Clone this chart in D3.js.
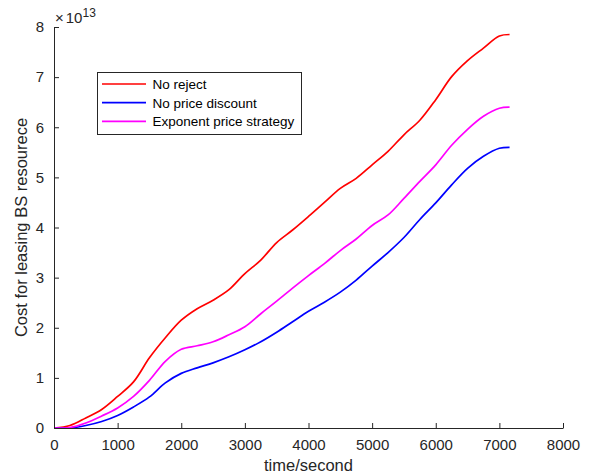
<!DOCTYPE html>
<html>
<head>
<meta charset="utf-8">
<script src="https://cdn.jsdelivr.net/npm/d3@7"></script>
<style>
  html, body { margin: 0; padding: 0; background: #fff; }
  svg { display: block; font-family: "Liberation Sans", Arial, Helvetica, sans-serif; }
</style>
</head>
<body>
<svg id="chart" width="590" height="476"></svg>
<script>
// Time stamps (seconds) and cumulative leasing cost (in units of 1e13)
const times = [0, 250, 500, 750, 1000, 1250, 1500, 1750, 2000, 2250, 2500, 2750, 3000, 3250, 3500,
  3750, 4000, 4250, 4500, 4750, 5000, 5250, 5500, 5750, 6000, 6250, 6500, 6750, 7000, 7160];

const noReject = [0, 0.05, 0.20, 0.37, 0.63, 0.92, 1.40, 1.80, 2.15, 2.38, 2.55, 2.76, 3.08, 3.35, 3.70,
  3.95, 4.22, 4.50, 4.78, 4.98, 5.25, 5.52, 5.85, 6.14, 6.55, 7.01, 7.33, 7.58, 7.82, 7.85];

const noDiscount = [0, 0, 0.05, 0.13, 0.25, 0.42, 0.62, 0.90, 1.09, 1.20, 1.30, 1.42, 1.56, 1.72, 1.91,
  2.12, 2.33, 2.51, 2.71, 2.95, 3.23, 3.50, 3.80, 4.16, 4.49, 4.85, 5.18, 5.42, 5.58, 5.60];

const exponentStrategy = [0, 0.01, 0.10, 0.24, 0.40, 0.63, 0.95, 1.33, 1.57, 1.64, 1.72, 1.86, 2.02, 2.28, 2.53,
  2.79, 3.04, 3.28, 3.54, 3.77, 4.04, 4.25, 4.58, 4.92, 5.25, 5.64, 5.96, 6.22, 6.38, 6.40];

const seriesNames = ["No reject", "No price discount", "Exponent price strategy"];
const seriesColors = ["#ff0000", "#0000ff", "#ff00ff"];
const seriesValues = [noReject, noDiscount, exponentStrategy];

const xTicks = [0, 1000, 2000, 3000, 4000, 5000, 6000, 7000, 8000];
const yTicks = [0, 1, 2, 3, 4, 5, 6, 7, 8];

const axisColor = "#262626";
const svg = d3.select("#chart");

const plot = { left: 54, right: 563, top: 27, bottom: 428 };

const x = d3.scaleLinear().domain([0, 8000]).range([plot.left, plot.right]);
const y = d3.scaleLinear().domain([0, 8]).range([plot.bottom, plot.top]);

// Series lines
const line = d3.line()
  .x(d => x(d[0]))
  .y(d => y(d[1]))
  .curve(d3.curveCatmullRom.alpha(0.5));

seriesValues.forEach((vals, i) => {
  svg.append("path")
    .datum(times.map((t, k) => [t, vals[k]]))
    .attr("fill", "none")
    .attr("stroke", seriesColors[i])
    .attr("stroke-width", 1.7)
    .attr("stroke-linejoin", "round")
    .attr("d", line);
});

// Axes with inward ticks
const xAxis = d3.axisBottom(x).tickValues(xTicks).tickSizeInner(-5).tickSizeOuter(0).tickPadding(11)
  .tickFormat(d3.format("d"));
const yAxis = d3.axisLeft(y).tickValues(yTicks).tickSizeInner(-5).tickSizeOuter(0).tickPadding(10)
  .tickFormat(d3.format("d"));

const gx = svg.append("g").attr("transform", `translate(0,${plot.bottom})`).call(xAxis);
const gy = svg.append("g").attr("transform", `translate(${plot.left},0)`).call(yAxis);

[gx, gy].forEach(g => {
  g.select(".domain").attr("stroke", axisColor).attr("stroke-width", 1);
  g.selectAll(".tick line").attr("stroke", axisColor).attr("stroke-width", 1);
  g.selectAll(".tick text")
    .attr("fill", axisColor)
    .style("font-size", "15px")
    .style("font-family", "'Liberation Sans', Arial, sans-serif");
});

// Axis titles
svg.append("text")
  .attr("x", (plot.left + plot.right) / 2)
  .attr("y", 471)
  .attr("text-anchor", "middle")
  .attr("fill", axisColor)
  .style("font-size", "16.5px")
  .text("time/second");

svg.append("text")
  .attr("transform", `translate(27,${(plot.top + plot.bottom) / 2}) rotate(-90)`)
  .attr("text-anchor", "middle")
  .attr("fill", axisColor)
  .style("font-size", "16.5px")
  .text("Cost for leasing BS resourece");

// Exponent multiplier
const expo = svg.append("text")
  .attr("x", 55)
  .attr("y", 23)
  .attr("fill", axisColor)
  .style("font-size", "15px");
expo.append("tspan").text("\u00d7");
expo.append("tspan").attr("dx", 2).text("10");
expo.append("tspan").attr("dy", -6).style("font-size", "12px").text("13");

// Legend
const legend = svg.append("g");
legend.append("rect")
  .attr("x", 97.5).attr("y", 72.5)
  .attr("width", 204).attr("height", 62)
  .attr("fill", "#fff")
  .attr("stroke", axisColor)
  .attr("stroke-width", 1);

seriesNames.forEach((name, i) => {
  const cy = 84 + i * 18.7;
  legend.append("line")
    .attr("x1", 102).attr("x2", 146)
    .attr("y1", cy).attr("y2", cy)
    .attr("stroke", seriesColors[i])
    .attr("stroke-width", 1.7);
  legend.append("text")
    .attr("x", 152.5)
    .attr("y", cy + 5)
    .attr("fill", "#000")
    .style("font-size", "13.5px")
    .text(name);
});
</script>
</body>
</html>
